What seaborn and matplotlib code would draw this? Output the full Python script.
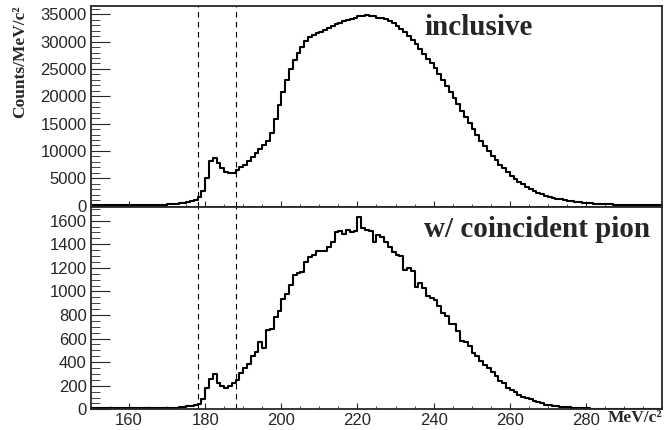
import matplotlib
matplotlib.use("Agg")
import matplotlib.pyplot as plt
import numpy as np
import pandas as pd
import seaborn as sns
from matplotlib.ticker import MultipleLocator

# 1 MeV bins, 150 -> 300 MeV/c^2
bin_lo = 150
bin_hi = 300

# inclusive spectrum, counts per bin (150..299)
inclusive = [
    50, 55, 55, 60, 60, 60, 65, 65, 70, 70,
    75, 75, 80, 85, 90, 95, 100, 120, 150, 200,
    250, 300, 350, 450, 550, 650, 800, 1000, 1500, 2600,
    5000, 8100, 8800, 7800, 6800, 6100, 5900, 5900, 6500, 7000,
    7500, 8200, 8900, 9600, 10300, 11000, 11900, 13300, 15800, 18400,
    20700, 23000, 25000, 26700, 28000, 29000, 30100, 30900, 31200, 31500,
    31700, 32100, 32500, 32800, 33200, 33400, 33800, 34000, 34200, 34400,
    34600, 34700, 34800, 34700, 34600, 34400, 34300, 34100, 33800, 33400,
    32900, 32300, 31700, 31000, 30300, 29500, 28700, 27800, 26900, 26000,
    25100, 24100, 23000, 21900, 20800, 19600, 18500, 17300, 16200, 15100,
    14000, 12900, 11900, 10900, 10000, 9100, 8300, 7500, 6800, 6100,
    5500, 4900, 4400, 3900, 3450, 3050, 2700, 2400, 2100, 1850,
    1650, 1450, 1300, 1150, 1000, 900, 800, 700, 620, 550,
    480, 420, 370, 330, 290, 260, 230, 200, 180, 160,
    140, 120, 110, 100, 90, 80, 70, 60, 50, 50,
]

# with a coincident pion
coinc_pion = [
    10, 8, 12, 10, 9, 11, 10, 12, 9, 10,
    11, 10, 12, 10, 13, 11, 12, 10, 13, 12,
    14, 15, 15, 20, 20, 25, 30, 35, 45, 84,
    178, 257, 300, 226, 197, 183, 197, 220, 248, 305,
    348, 383, 449, 489, 567, 518, 669, 683, 786, 838,
    933, 975, 1055, 1140, 1156, 1162, 1252, 1290, 1306, 1343,
    1343, 1345, 1380, 1420, 1500, 1515, 1485, 1520, 1500, 1515,
    1630, 1535, 1520, 1510, 1420, 1480, 1465, 1420, 1375, 1335,
    1310, 1300, 1180, 1195, 1170, 1040, 1075, 1030, 965, 940,
    925, 880, 820, 790, 720, 720, 665, 580, 575, 535,
    480, 450, 410, 380, 350, 320, 280, 240, 225, 185,
    165, 145, 120, 105, 95, 85, 70, 60, 50, 40,
    38, 30, 28, 22, 20, 18, 15, 12, 10, 8,
    8, 6, 5, 5, 4, 3, 3, 2, 2, 1,
    1, 1, 0, 0, 0, 0, 0, 0, 0, 0,
]

cut_lines = [178, 188]
x_labels = [160, 180, 200, 220, 240, 260, 280]

sns.set_style("ticks")
plt.rcParams['font.family'] = ['Liberation Sans', 'DejaVu Sans']

centers = np.arange(bin_lo, bin_hi) + 0.5

fig = plt.figure(figsize=(6.65, 4.3), dpi=100)
ax1 = fig.add_axes([0.1368, 0.5186, 0.8587, 0.4674])
ax2 = fig.add_axes([0.1368, 0.0481, 0.8587, 0.4705])

for ax, vals in [(ax1, inclusive), (ax2, coinc_pion)]:
    df = pd.DataFrame({"mass": centers, "counts": vals})
    sns.histplot(data=df, x="mass", weights="counts", binwidth=1,
                 binrange=(bin_lo, bin_hi), element="step", fill=False,
                 color="black", linewidth=1.5, ax=ax)
    ax.set_xlim(bin_lo, bin_hi)
    ax.set_ylabel("")
    ax.set_xlabel("")
    for x in cut_lines:
        ax.axvline(x, color="black", linewidth=0.8, dashes=(5, 4))
    ax.set_xticks(x_labels)
    ax.xaxis.set_minor_locator(MultipleLocator(5))
    ax.tick_params(axis="both", which="both", direction="in", labelsize=12)
    ax.tick_params(axis="y", which="major", length=13.5, pad=3)
    ax.tick_params(axis="y", which="minor", length=6.5)
    ax.tick_params(axis="x", which="major", length=4.5, pad=2.5)
    ax.tick_params(axis="x", which="minor", length=2.5)
    for sp in ax.spines.values():
        sp.set_visible(True)
        sp.set_linewidth(1.3)

ax1.set_ylim(-250, 36500)
ax1.yaxis.set_major_locator(MultipleLocator(5000))
ax1.yaxis.set_minor_locator(MultipleLocator(1000))
ax1.tick_params(axis="x", labelbottom=False)

ax2.set_ylim(0, 1716)
ax2.yaxis.set_major_locator(MultipleLocator(200))
ax2.yaxis.set_minor_locator(MultipleLocator(50))

ax1.text(0.583, 0.856, "inclusive", transform=ax1.transAxes, fontsize=21,
         fontweight="bold", family="Liberation Serif", va="baseline")
ax2.text(0.583, 0.853, "w/ coincident pion", transform=ax2.transAxes,
         fontsize=21, fontweight="bold", family="Liberation Serif",
         va="baseline")

fig.text(0.03, 0.988, "Counts/MeV/c\u00b2", rotation=90, ha="center",
         va="top", fontsize=12.5, fontweight="bold", family="Liberation Serif")
fig.text(0.996, 1 - 422 / 430, "MeV/c\u00b2", ha="right", va="baseline",
         fontsize=12.5, fontweight="bold", family="Liberation Serif")

fig.savefig("out.png", dpi=100)
